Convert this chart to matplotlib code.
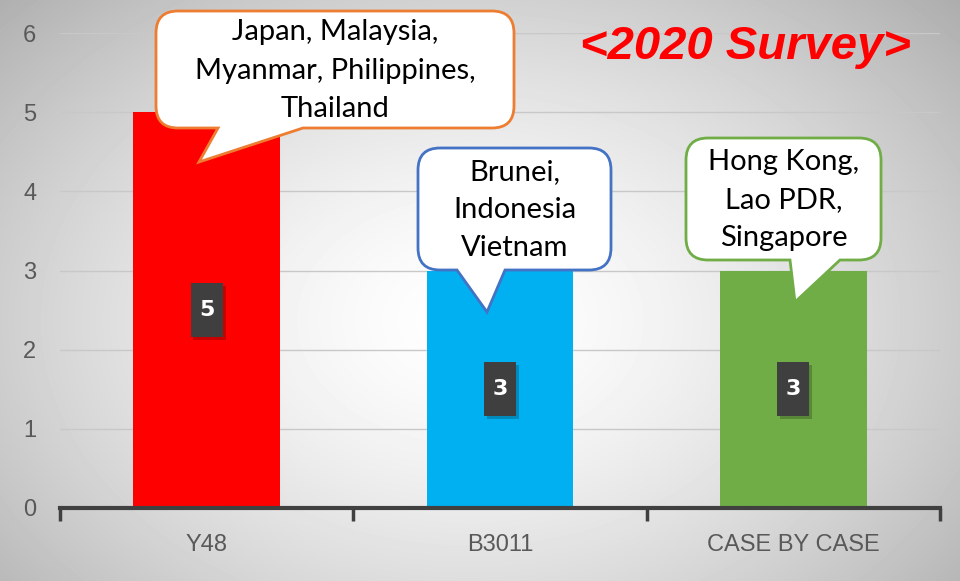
"""
Bar chart of 2020 survey responses with callout bubbles.
"""
import matplotlib.pyplot as plt
import numpy as np
from matplotlib.path import Path
from matplotlib.patches import PathPatch, Rectangle

categories = ["Y48", "B3011", "CASE BY CASE"]
counts = [5, 3, 3]
bar_colors = ["#ff0000", "#00b0f0", "#70ad47"]
callout_texts = [
    "Japan, Malaysia,\nMyanmar, Philippines,\nThailand",
    "Brunei,\nIndonesia\nVietnam",
    "Hong Kong,\nLao PDR,\nSingapore",
]
callout_edges = ["#ed7d31", "#4472c4", "#70ad47"]
title = "<2020 Survey>"

W, H = 960, 581
fig = plt.figure(figsize=(W / 100, H / 100), dpi=100)

# background radial gradient
bg = fig.add_axes([0, 0, 1, 1], zorder=0)
yy, xx = np.mgrid[0:H, 0:W]
r = np.sqrt(((xx - 470) / 560.0) ** 2 + ((yy - 320) / 400.0) ** 2)
shade = 1.0 - 0.25 * np.clip(r, 0, 1.2) ** 1.5
bg.imshow(shade, cmap="gray", vmin=0, vmax=1, aspect="auto", extent=(0, W, H, 0))
bg.set_xlim(0, W)
bg.set_ylim(H, 0)
bg.axis("off")

# main axes
left, right, top, bottom = 60, 940, 33, 508
ax = fig.add_axes([left / W, (H - bottom) / H, (right - left) / W, (bottom - top) / H], zorder=1)
ax.patch.set_alpha(0)
x = np.arange(len(categories))
ax.bar(x, counts, width=0.5, color=bar_colors, zorder=3)
ax.set_xlim(-0.5, len(categories) - 0.5)
ax.set_ylim(0, 6)
ax.set_yticks(range(7))
ax.grid(axis="y", color="#c8c8c8", linewidth=1, zorder=1)
for s in ["top", "right", "left"]:
    ax.spines[s].set_visible(False)
ax.spines["bottom"].set_color("#404040")
ax.spines["bottom"].set_linewidth(3)
ax.spines["bottom"].set_zorder(4)
ax.set_xticks(x)
ax.set_xticklabels(categories)
ax.set_xticks(np.arange(-0.5, len(categories)), minor=True)
ax.tick_params(axis="x", which="major", length=0, pad=19, labelsize=17, labelcolor="#595959")
ax.tick_params(axis="x", which="minor", length=9, width=2.5, color="#404040", direction="out")
ax.tick_params(axis="y", length=0, pad=17, labelsize=17, labelcolor="#595959")
for lab in ax.get_xticklabels() + ax.get_yticklabels():
    lab.set_family("Liberation Sans")

# value labels in dark boxes
for xi, v in zip(x, counts):
    ax.add_patch(Rectangle((xi - 0.055 + 0.01, v / 2 - 0.34 - 0.035), 0.11, 0.68,
                           facecolor="black", alpha=0.22, edgecolor="none", zorder=4))
    ax.add_patch(Rectangle((xi - 0.055, v / 2 - 0.34), 0.11, 0.68,
                           facecolor="#3f3f3f", edgecolor="none", zorder=5))
    ax.text(xi, v / 2, str(v), color="white", fontsize=16, fontweight="bold",
            ha="center", va="center", zorder=6)

# overlay in pixel coordinates for callouts and title
ov = fig.add_axes([0, 0, 1, 1], zorder=2)
ov.set_xlim(0, W)
ov.set_ylim(H, 0)
ov.axis("off")
ov.patch.set_alpha(0)


def callout(x0, y0, x1, y1, rad, base_a, base_b, tip):
    verts = [
        (x0 + rad, y0), (x1 - rad, y0), (x1, y0), (x1, y0 + rad),
        (x1, y1 - rad), (x1, y1), (x1 - rad, y1),
        (base_b, y1), tip, (base_a, y1),
        (x0 + rad, y1), (x0, y1), (x0, y1 - rad),
        (x0, y0 + rad), (x0, y0), (x0 + rad, y0),
    ]
    codes = [
        Path.MOVETO, Path.LINETO, Path.CURVE3, Path.CURVE3,
        Path.LINETO, Path.CURVE3, Path.CURVE3,
        Path.LINETO, Path.LINETO, Path.LINETO,
        Path.LINETO, Path.CURVE3, Path.CURVE3,
        Path.LINETO, Path.CURVE3, Path.CURVE3,
    ]
    return Path(verts, codes)


boxes = [
    (156, 11, 514, 128, 22, 218, 303, (199, 162)),
    (418, 148, 611, 270, 22, 457, 505, (487, 312)),
    (686, 138, 881, 260, 22, 790, 840, (795, 302)),
]
for (x0, y0, x1, y1, rad, ba, bb, tip), txt, ec in zip(boxes, callout_texts, callout_edges):
    ov.add_patch(PathPatch(callout(x0, y0, x1, y1, rad, ba, bb, tip),
                           facecolor="white", edgecolor=ec, linewidth=2))
    ov.text((x0 + x1) / 2, (y0 + y1) / 2 + 1, txt, ha="center", va="center",
            fontsize=21, family="Lato", linespacing=1.58, color="black")

ov.text(745, 47, title, ha="center", va="center", color="#ff0000", fontsize=34,
        fontweight="bold", fontstyle="italic", family="Liberation Sans")

fig.savefig("out.png", dpi=100)
